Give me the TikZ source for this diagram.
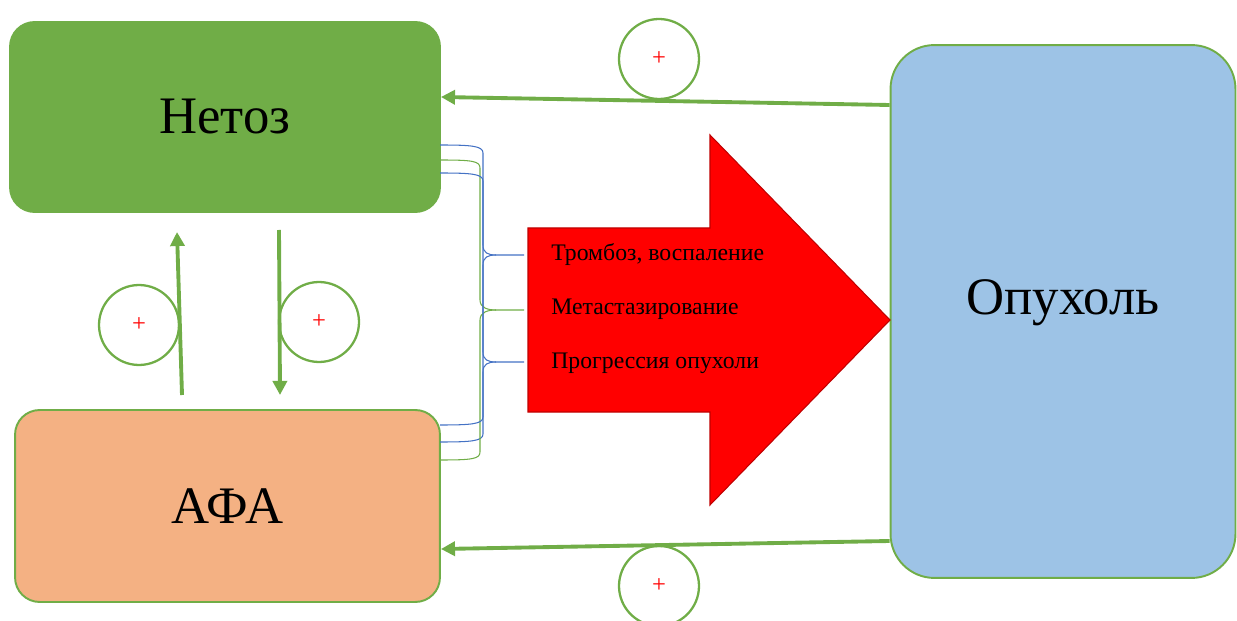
\documentclass[tikz,border=0pt]{standalone}
\usepackage{fontspec}
\setmainfont{Liberation Serif}
\usetikzlibrary{arrows.meta}
\definecolor{grn}{HTML}{70AD47}
\definecolor{bln}{HTML}{4472C4}
\definecolor{netozfill}{HTML}{70AD47}
\definecolor{afafill}{HTML}{F4B183}
\definecolor{opufill}{HTML}{9DC3E6}
\begin{document}
\begin{tikzpicture}[x=0.02cm, y=-0.02cm, >={Triangle[length=8pt,width=8pt]},
    box/.style={draw=grn, line width=1.1pt, rounded corners=14pt, font=\fontsize{30}{36}\selectfont},
    plus/.style={circle, draw=grn, line width=1.3pt, minimum size=1.6cm, inner sep=0pt, text=red, font=\fontsize{14}{16}\selectfont},
    flow/.style={->, draw=grn, line width=2.2pt},
    effect/.style={anchor=west, inner sep=0pt, font=\fontsize{13.5}{16}\selectfont}]
    \useasboundingbox (0,0) rectangle (1237,621);
    % boxes
    \node[box, fill=netozfill, minimum width=8.6cm, minimum height=3.8cm] (netoz) at (225,117) {Нетоз};
    \node[box, fill=afafill, minimum width=8.5cm, minimum height=3.84cm] (afa) at (227.5,506) {АФА};
    \node[box, fill=opufill, rounded corners=25pt, minimum width=6.9cm, minimum height=10.66cm] (opu) at (1063,311.5) {\raisebox{0.56cm}{Опухоль}};
    % big red arrow
    \filldraw[fill=red, draw=red!75!black, line width=0.6pt]
        (528,228) -- (710,228) -- (710,135) -- (890,320) -- (710,505) -- (710,412) -- (528,412) -- cycle;
    \node[effect] (t1) at (551,255) {Тромбоз, воспаление};
    \node[effect] (t2) at (551,309) {Метастазирование};
    \node[effect] (t3) at (551,363) {Прогрессия опухоли};
    % braces
    \foreach \ya/\yt/\yb/\c/\xv in {145/255/442/bln/483, 160/310/460/grn/480, 173/362/425/bln/483} {
        \draw[\c, line width=0.6pt]
            (440,\ya) .. controls (472,\ya) and (\xv,\ya+1) .. (\xv,\ya+8) -- (\xv,\yt-10)
            .. controls (\xv,\yt-2) and (488,\yt) .. (496,\yt) -- (524,\yt);
        \draw[\c, line width=0.6pt]
            (496,\yt) .. controls (488,\yt) and (\xv,\yt+2) .. (\xv,\yt+10) -- (\xv,\yb-8)
            .. controls (\xv,\yb-1) and (472,\yb) .. (440,\yb);
    }
    % feedback arrows
    \coordinate (up1) at (182,395);
    \coordinate (up2) at (177,232);
    \coordinate (dn1) at (279,230);
    \coordinate (dn2) at (280,395);
    \draw[flow] (up1) -- (up2);
    \draw[flow] (dn1) -- (dn2);
    \draw[flow] (opu.west |- 0,105) -- (netoz.east |- 0,97);
    \draw[flow] (opu.west |- 0,541) -- (afa.east |- 0,549);
    % plus signs
    \node[plus] (p1) at (659,59) {+};
    \node[plus] (p2) at (139,325) {+};
    \node[plus] (p3) at (319,322) {+};
    \node[plus] (p4) at (659,586) {+};
\end{tikzpicture}
\end{document}
